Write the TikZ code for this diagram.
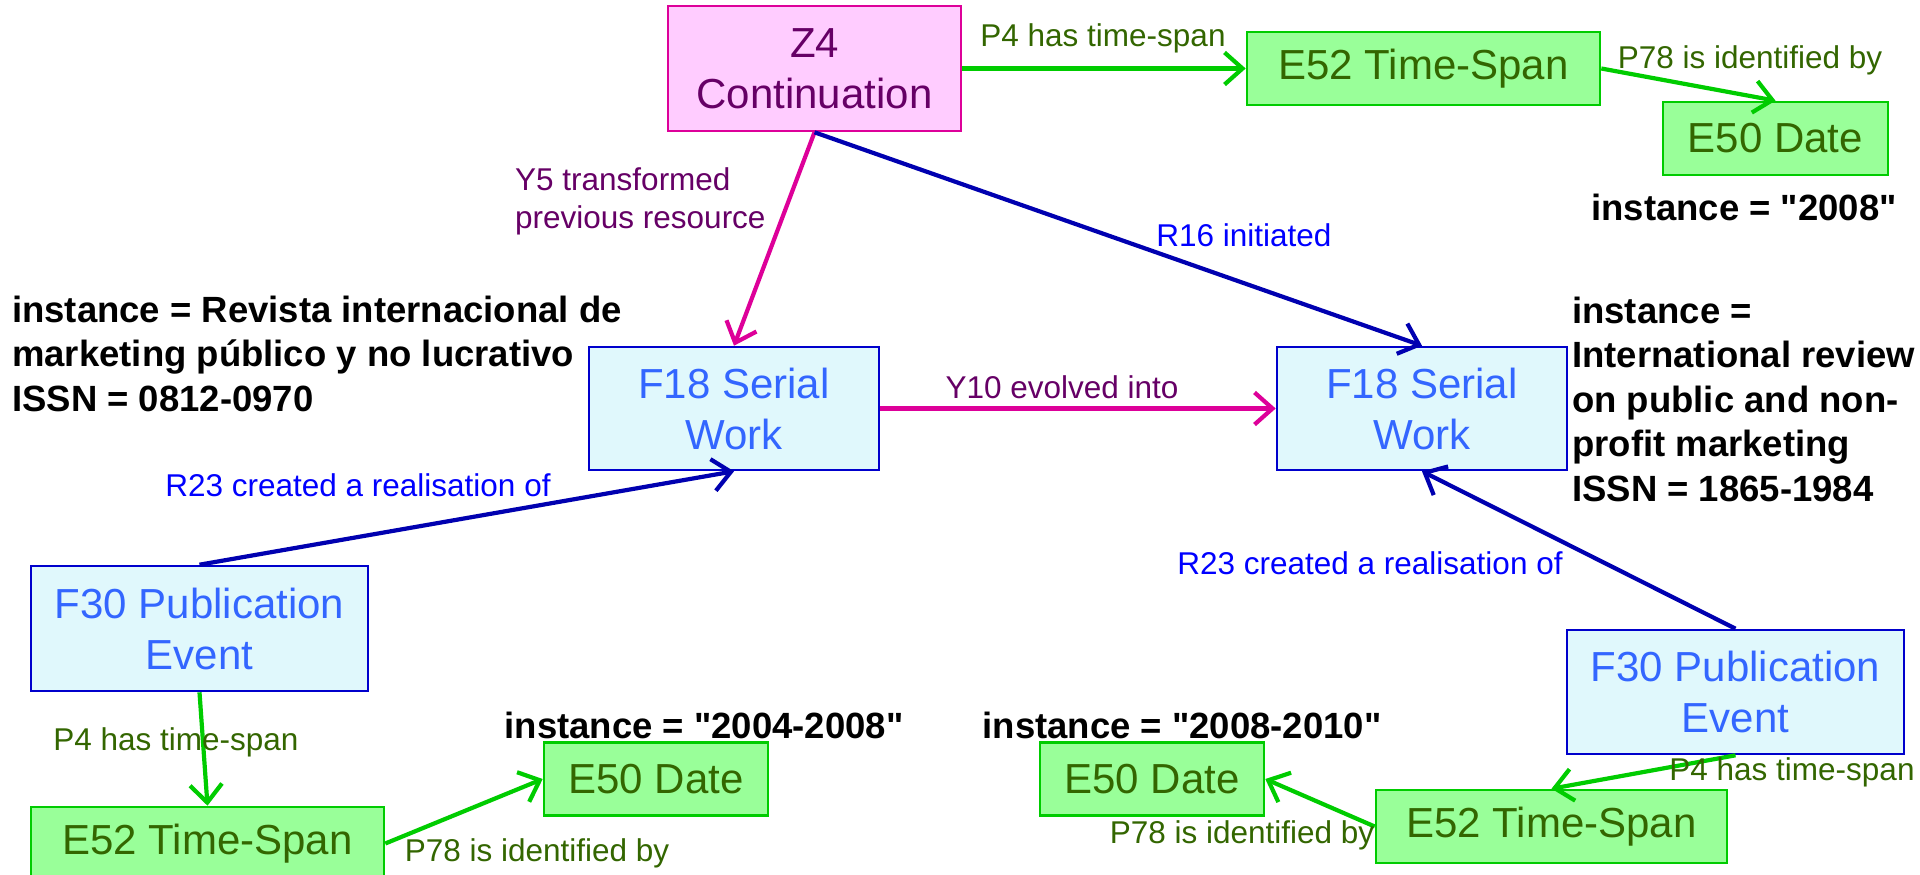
\documentclass[tikz,border=0pt]{standalone}
\usepackage{fontspec}
\setmainfont{Liberation Sans}[Ligatures=TeXOff]
\usetikzlibrary{arrows.meta}
\definecolor{gfill}{HTML}{99FF99}
\definecolor{gborder}{HTML}{00CC00}
\definecolor{gtext}{HTML}{336600}
\definecolor{cfill}{HTML}{E0F8FC}
\definecolor{cborder}{HTML}{0000CC}
\definecolor{ctext}{HTML}{3366FF}
\definecolor{pfill}{HTML}{FFCCFF}
\definecolor{pborder}{HTML}{DD0099}
\definecolor{ptext}{HTML}{660066}
\definecolor{barrow}{HTML}{0000B0}
\definecolor{blabel}{HTML}{0000FF}
\tikzset{
  nodefont/.style={font=\fontsize{42}{51}\selectfont},
  box/.style={nodefont, inner sep=0pt, align=center, line width=2.6pt},
  greenbox/.style={box, draw=gborder, fill=gfill, text=gtext, minimum height=73pt},
  cyanbox/.style={box, draw=cborder, fill=cfill, text=ctext},
  pinkbox/.style={box, draw=pborder, fill=pfill, text=ptext},
  lbl/.style={font=\fontsize{31.5}{38}\selectfont, inner sep=0pt, align=left},
  glabel/.style={lbl, text=gtext},
  blabelst/.style={lbl, text=blabel},
  plabel/.style={lbl, text=ptext},
  conn/.style={line width=4.2pt, -{Straight Barb[length=18pt, width=32pt, line width=4.2pt]}},
  garrow/.style={conn, draw=gborder},
  barrowst/.style={conn, draw=barrow},
  parrow/.style={conn, draw=pborder},
  inst/.style={anchor=base west, inner sep=0pt, font=\bfseries\fontsize{36.5}{44.6}\selectfont},
  instc/.style={anchor=base, inner sep=0pt, font=\bfseries\fontsize{36.5}{44.6}\selectfont},
}
\begin{document}
\begin{tikzpicture}[x=1pt, y=-1pt]
\useasboundingbox[fill=white] (0,0) rectangle (1920,875);

% boxes
\node[pinkbox, minimum width=293pt, minimum height=125pt] (z4) at (814.5,68.5) {Z4\\Continuation};
\node[greenbox, minimum width=353pt] (e52t) at (1423.5,68.5) {E52 Time-Span};
\node[greenbox, minimum width=225pt] (e50t) at (1775.5,138.5) {E50 Date};
\node[cyanbox, minimum width=290pt, minimum height=123pt] (f18l) at (734,408.5) {F18 Serial\\Work};
\node[cyanbox, minimum width=290pt, minimum height=123pt] (f18r) at (1422,408.5) {F18 Serial\\Work};
\node[cyanbox, minimum width=337pt, minimum height=125pt] (f30l) at (199.5,628.5) {F30 Publication\\Event};
\node[cyanbox, minimum width=337pt, minimum height=124pt] (f30r) at (1735.5,692) {F30 Publication\\Event};
\node[greenbox, minimum width=353pt] (e52bl) at (207.5,843.5) {E52 Time-Span};
\node[greenbox, minimum width=224pt] (e50bl) at (656,779) {E50 Date};
\node[greenbox, minimum width=351pt] (e52br) at (1551.5,826.5) {E52 Time-Span};
\node[greenbox, minimum width=224pt] (e50br) at (1152,779) {E50 Date};

% connectors
\draw[garrow] (z4.east) -- (e52t.west);
\draw[garrow] (e52t.east) -- (e50t.north);
\draw[parrow] (z4.south) -- (f18l.north);
\draw[barrowst] (z4.south) -- (f18r.north);
\draw[parrow] (f18l.east) -- (f18r.west);
\draw[barrowst] (f30l.north) -- (f18l.south);
\draw[barrowst] (f30r.north) -- (f18r.south);
\draw[garrow] (f30l.south) -- (e52bl.north);
\draw[garrow] (e52bl.east) -- (e50bl.west);
\draw[garrow] (f30r.south) -- (e52br.north);
\draw[garrow] (e52br.west) -- (e50br.east);

% connector labels
\node[glabel] (lp4t) at (1103,38) {P4 has time-span};
\node[glabel] (lp78t) at (1750,60) {P78 is identified by};
\node[plabel, anchor=west] (ly5) at (515,201) {Y5 transformed\\previous resource};
\node[blabelst] (lr16) at (1244,235) {R16 initiated};
\node[plabel] (ly10) at (1062,387) {Y10 evolved into};
\node[blabelst] (lr23l) at (358,485) {R23 created a realisation of};
\node[blabelst] (lr23r) at (1370,563) {R23 created a realisation of};
\node[glabel] (lp4bl) at (176,742) {P4 has time-span};
\node[glabel] (lp78bl) at (537,853) {P78 is identified by};
\node[glabel] (lp4br) at (1792,772) {P4 has time-span};
\node[glabel] (lp78br) at (1242,835) {P78 is identified by};

% instance texts
\node[inst] (instl) at (12,322) {\parbox[t]{700pt}{\raggedright instance = Revista internacional de\\marketing público y no lucrativo\\ISSN = 0812-0970}};
\node[inst] (instr) at (1572,323) {\parbox[t]{400pt}{\raggedright instance =\\International review\\on public and non-\\profit marketing\\ISSN = 1865-1984}};
\node[instc] (instt) at (1744,220) {instance = "2008"};
\node[instc] (instbl) at (704,738) {instance = "2004-2008"};
\node[instc] (instbr) at (1182,738) {instance = "2008-2010"};
\end{tikzpicture}
\end{document}
